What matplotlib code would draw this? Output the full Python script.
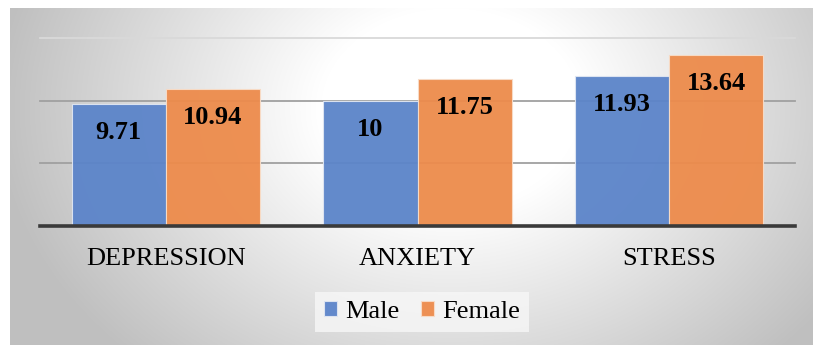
import numpy as np
import matplotlib
matplotlib.use("Agg")
import matplotlib.pyplot as plt

plt.rcParams['font.family'] = ['Liberation Serif', 'DejaVu Serif']

# data
categories = ['DEPRESSION', 'ANXIETY', 'STRESS']
male = [9.71, 10, 11.93]
female = [10.94, 11.75, 13.64]
male_labels = ['9.71', '10', '11.93']
female_labels = ['10.94', '11.75', '13.64']

W, H = 813, 345
fig = plt.figure(figsize=(W / 100, H / 100), dpi=100)
fig.patch.set_facecolor('white')

# radial gray background (white in the middle, gray at the edges)
bg = fig.add_axes([10 / W, 0, (W - 10) / W, (H - 8) / H], zorder=-5)
yy, xx = np.mgrid[0:H - 8, 0:W - 10]
cx, cy = 440, 100
d = np.sqrt(((xx - cx) / 1.3) ** 2 + (yy - cy) ** 2)
t = np.clip((d - 100) / 250, 0, 1)
val = 1 - 0.25 * t
bg.imshow(np.dstack([val, val, val]), aspect='auto', interpolation='bilinear')
bg.axis('off')

ax = fig.add_axes([40 / W, 119 / H, 755 / W, 188 / H])
ax.set_facecolor('none')

x = np.arange(len(categories))
w = 0.374

# gridlines
for g, c in [(5, '#a0a0a0'), (10, '#a0a0a0'), (15, '#d9d9d9')]:
    ax.axhline(g, color=c, lw=1.3, zorder=1, clip_on=False)

b1 = ax.bar(x - w / 2, male, w, color='#5b84c9', edgecolor='#dfe6f2', lw=0.8,
            alpha=0.95, label='Male', zorder=2)
b2 = ax.bar(x + w / 2, female, w, color='#ed8b4b', edgecolor='#f8dcc7', lw=0.8,
            alpha=0.95, label='Female', zorder=2)

for xi, v, s in zip(x - w / 2, male, male_labels):
    ax.annotate(s, (xi, v), xytext=(0, -20.5), textcoords='offset points',
                ha='center', va='center', fontsize=19, fontweight='bold', zorder=4)
for xi, v, s in zip(x + w / 2, female, female_labels):
    ax.annotate(s, (xi, v), xytext=(0, -20.5), textcoords='offset points',
                ha='center', va='center', fontsize=19, fontweight='bold', zorder=4)

ax.axhline(0, color='#3a3a3a', lw=2.6, zorder=5, clip_on=False)

ax.set_xlim(-0.5, 2.5)
ax.set_ylim(0, 15)
ax.set_xticks(x)
ax.set_xticklabels(categories, fontsize=19)
ax.tick_params(axis='x', length=0, pad=16)
ax.set_yticks([])
for s in ax.spines.values():
    s.set_visible(False)

leg = fig.legend(handles=[b1, b2], loc='center', bbox_to_anchor=(422 / W, 33 / H),
                 ncol=2, prop={'family': 'Liberation Serif', 'size': 19},
                 frameon=True, fancybox=False,
                 handlelength=0.5, handleheight=0.5, handletextpad=0.3,
                 columnspacing=0.8, borderpad=0.35, borderaxespad=0)
leg.get_frame().set_facecolor('#f7f7f7')
leg.get_frame().set_edgecolor('none')

fig.savefig('out.png', dpi=100)
